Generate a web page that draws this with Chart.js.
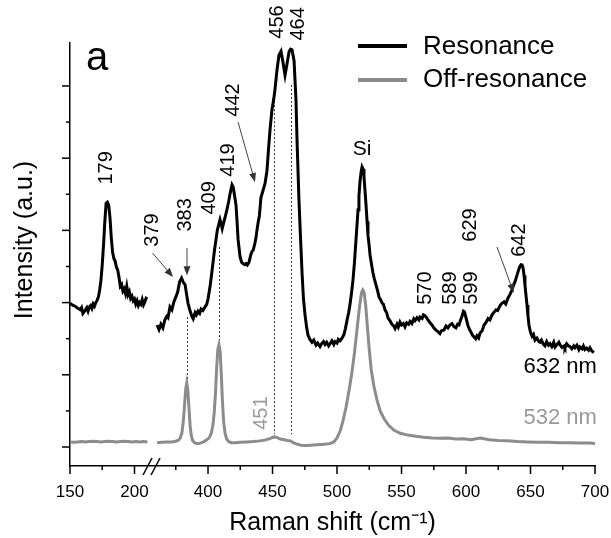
<!DOCTYPE html>
<html><head><meta charset="utf-8">
<script src="https://cdn.jsdelivr.net/npm/chart.js@4.4.0/dist/chart.umd.min.js"></script>
<style>html,body{margin:0;padding:0;background:#fff;}</style>
</head><body>
<canvas id="c" width="611" height="538"></canvas>
<script>
// ---------- DATA ----------
const resShift = [150,152,154,156,158,159,160,162,163,164,165,166,167,168,169,170,171,172,173,174,175,176,177,178,179,180,181,182,183,184,185,186,187,188,189,190,191,192,193,194,195,196,197,198,199,200,201,202,203,204,205,206,207,208,209,210,
360.5,362,363.5,365,366.5,368,369,370.5,372,373.5,375,376.5,378,379.5,381,382.2,383.5,384.5,386,387.5,388.5,390,391,392.2,393.5,394.6,396,397.7,399,400,401.6,403,404,405,406.2,407.2,408,409.3,410.2,411,412.4,413.5,414.7,416,417,418.6,419.5,420.2,421.7,422.5,423.3,424.8,426,427.1,428.5,429.5,430.5,431.8,433,434.1,435,436.4,437.2,438,439,439.8,441,442.6,444.2,445.7,447,448.1,449.6,451,451.9,453.5,455,456.6,458.1,459.7,461.2,462.8,464,465.1,466.7,468.2,469,470.5,471.7,472.9,474,475.2,476.5,477.5,479,480.6,482,483.7,485,486.8,488,489.5,490.7,492,493.5,494.6,496,497.5,498.4,500,501,502.3,504,505.4,506.5,507.8,509,510,511.2,512.4,513.5,514.7,515.5,516.3,517,517.8,518.6,519.4,520.2,520.9,521.7,522.5,523.3,524,525,525.6,526.8,527.9,529,530.2,531.3,532.6,533.8,534.9,536,537.2,538.5,539.5,541,542.6,544,545,546.5,547.5,548.8,550,551.5,552.7,554,555.5,556.6,558,559.5,560.5,562,563.5,564.3,566,567,568.2,569.5,570.5,572,573.6,575,576.7,578,579.8,581,582.9,584.5,586,587.5,589.1,590.5,592.2,593.5,594.6,595.8,596.9,598,598.8,600,601.6,602.8,603.9,605,606.2,607.5,608.5,609.8,610.9,612.5,614,615.5,617.1,618.5,620.2,621.5,623.3,624.5,626.4,627.8,629.5,630.8,632.6,634,635.7,637,638,639.2,640.3,641.5,642.6,643.5,644.2,645,645.7,646.5,647.3,648,648.8,650,651.2,652.3,653.5,655,656.5,657.4,658.5,660,661.2,662.5,664,665.1,666.5,668,669,670.5,672,672.9,674.5,676,676.7,678,679.5,680.6,682,683.5,684.5,686,687.5,688.4,690,691,692.2,693.5,695,696.1,697.5,699.2];
const resIntensity = [3.98,3.93,3.90,3.84,3.80,3.86,3.70,3.80,3.86,3.76,3.88,3.92,3.84,3.96,3.90,4.00,4.06,4.15,4.35,4.62,5.05,5.60,6.25,6.75,6.78,6.70,6.35,5.80,5.40,5.22,5.15,4.98,4.90,4.70,4.45,4.50,4.32,4.38,4.25,4.45,4.22,4.30,4.12,4.18,4.05,4.10,3.96,4.05,3.92,4.00,3.95,4.08,3.94,4.02,4.12,4.10,
3.38,3.25,3.40,3.30,3.52,3.62,3.58,3.88,3.80,4.02,4.15,4.30,4.58,4.68,4.55,4.50,4.20,3.98,3.78,3.62,3.55,3.72,3.66,3.76,3.70,3.82,3.78,3.88,3.95,4.10,4.45,4.85,5.15,5.45,5.75,6.00,6.12,6.30,6.18,6.05,6.25,6.40,6.58,6.80,7.00,7.26,7.20,7.05,6.70,6.25,5.75,5.28,5.12,5.08,5.05,5.08,5.04,5.12,5.30,5.42,5.45,5.65,5.80,6.02,6.25,6.40,6.90,7.10,7.30,7.65,8.30,8.80,9.35,9.65,9.90,10.45,10.85,10.96,10.66,10.30,10.60,10.95,11.02,11.00,10.70,9.60,8.50,6.84,5.80,4.82,4.10,3.66,3.30,3.10,2.98,2.90,2.96,2.82,2.88,2.78,2.86,2.92,2.84,2.90,2.80,2.86,2.94,2.84,2.92,2.88,2.98,2.94,3.02,3.12,3.28,3.52,3.72,3.93,4.25,4.63,5.10,5.73,6.15,6.57,6.95,7.34,7.60,7.76,7.70,7.50,7.10,6.70,6.25,5.87,5.55,5.32,5.05,4.82,4.65,4.49,4.35,4.15,4.08,3.99,3.95,3.80,3.72,3.58,3.50,3.40,3.35,3.28,3.40,3.32,3.46,3.38,3.42,3.33,3.44,3.40,3.48,3.42,3.55,3.50,3.58,3.52,3.60,3.56,3.66,3.64,3.58,3.52,3.45,3.38,3.30,3.24,3.20,3.14,3.22,3.24,3.35,3.30,3.38,3.42,3.34,3.30,3.40,3.38,3.52,3.62,3.76,3.74,3.58,3.35,3.25,3.18,3.10,3.05,3.00,3.08,3.02,3.16,3.22,3.38,3.45,3.56,3.52,3.66,3.72,3.80,3.78,3.92,3.98,4.02,3.96,4.13,4.22,4.35,4.50,4.58,4.72,4.85,4.98,5.05,5.04,4.96,4.75,4.49,4.20,3.93,3.65,3.38,3.18,3.07,3.12,2.96,3.02,2.92,2.90,2.96,2.84,2.80,2.92,2.82,2.86,2.78,2.90,2.77,2.84,2.90,2.83,2.76,2.80,2.75,2.86,2.80,2.78,2.72,2.80,2.75,2.82,2.70,2.77,2.72,2.80,2.70,2.74,2.68,2.75,2.66,2.62];

const offShift = [150,153,156,159,162,165,168,171,174,177,180,183,186,189,192,195,198,201,204,207,210,
360.5,364,368,372,375,377,378.5,379.8,380.8,381.8,382.7,383.5,384.3,385.2,386.1,387,388,389.5,391,393,395,397,399,401,402.5,403.8,404.8,405.8,406.7,407.6,408.5,409.4,410.3,411.2,412.1,413.2,414.5,416,418,421,425,430,435,440,444,448,451,453,456,459,462,464,466,469,472,476,480,484,488,492,495,497.5,500,502.5,504.5,507,509.5,511.5,513.5,515.5,517.5,519,520,521,522.3,523.6,525,526.5,528.5,531,533.5,536.5,540,544,549,555,561,567,574,580,586,592,598,604,611,618,625,632,640,648,656,664,672,680,688,696,700];
const offIntensity = [0.14,0.13,0.14,0.15,0.14,0.15,0.16,0.15,0.14,0.15,0.16,0.15,0.14,0.15,0.16,0.15,0.14,0.15,0.14,0.15,0.14,
0.12,0.13,0.14,0.14,0.16,0.19,0.25,0.40,0.70,1.15,1.60,1.77,1.60,1.10,0.60,0.32,0.18,0.12,0.10,0.10,0.12,0.15,0.20,0.26,0.38,0.60,0.95,1.50,2.20,2.70,2.83,2.65,2.00,1.25,0.70,0.38,0.22,0.15,0.12,0.12,0.13,0.14,0.15,0.17,0.19,0.23,0.28,0.27,0.22,0.20,0.18,0.17,0.12,0.08,0.05,0.04,0.05,0.06,0.07,0.08,0.10,0.14,0.25,0.45,0.70,1.10,1.60,2.05,2.60,3.25,3.90,4.28,4.35,4.28,3.90,3.30,2.70,2.15,1.70,1.30,1.00,0.78,0.60,0.47,0.38,0.33,0.30,0.27,0.25,0.24,0.25,0.22,0.23,0.20,0.25,0.20,0.18,0.17,0.15,0.14,0.13,0.13,0.12,0.12,0.11,0.11,0.10];

const xMajorTicks = [150,200,400,450,500,550,600,650,700];
const xMinorTicks = [175,375,425,475,525,575,625,675];
const yMajorTicks = [0,2,4,6,8,10];
const yMinorTicks = [1,3,5,7,9];

// peak annotations: [text, Raman shift, intensity, colour key]
const peakLabels = [
  ['179',177.9,7.73,'k'],['379',356.8,6.01,'k'],['383',382.9,6.43,'k'],['409',401.5,6.90,'k'],
  ['419',415.5,7.95,'k'],['442',419.4,9.61,'k'],['456',453.5,11.77,'k'],['464',470.5,11.72,'k'],
  ['570',568.2,4.40,'k'],['589',588.3,4.40,'k'],['599',603.9,4.40,'k'],['629',603.1,6.15,'k'],
  ['642',641.8,5.73,'k'],['451',441.1,0.94,'g']
];
const dottedLines = [[383.5,3.6,1.85],[408.5,5.54,2.88],[451.5,9.8,0.35],[464.3,10.03,0.35]];
const arrows = [[357.0,5.37,372.9,4.71],[383.7,5.51,383.7,4.76],[423.3,9.0,436.4,7.34],[624.0,5.54,637.0,4.27]];

// ---------- broken axis mapping ----------
const BREAK_LO = 213.6, BREAK_HI = 356.6, GAP = BREAK_HI - BREAK_LO;
const toAxis = v => v <= BREAK_LO ? v : v - GAP;
const fromAxis = d => d <= BREAK_LO ? d : d + GAP;

function buildSeries(xs, ys){
  const out = [];
  for (let i=0;i<xs.length;i++){
    if (i>0 && xs[i-1] <= BREAK_LO && xs[i] > BREAK_LO) out.push({x: BREAK_LO, y: null});
    out.push({x: toAxis(xs[i]), y: ys[i]});
  }
  return out;
}

const FONT = "'Liberation Sans', Arial, Helvetica, sans-serif";
const BLACK = '#000000', GREY = '#8c8c8c', GREYTXT = '#999999';

const decor = {
  id:'decor',
  beforeDatasetsDraw(chart){
    const {ctx, scales:{x,y}} = chart;
    ctx.save();
    ctx.strokeStyle = '#333'; ctx.lineWidth = 1; ctx.setLineDash([2,2]);
    dottedLines.forEach(([v,y1,y2])=>{
      const px = Math.round(x.getPixelForValue(toAxis(v)))+0.5;
      ctx.beginPath(); ctx.moveTo(px, y.getPixelForValue(y1)); ctx.lineTo(px, y.getPixelForValue(y2)); ctx.stroke();
    });
    ctx.restore();
  },
  afterDraw(chart){
    const {ctx, scales:{x,y}, chartArea:ca} = chart;
    ctx.save();
    // tick marks
    ctx.strokeStyle = '#000'; ctx.lineWidth = 1.5; ctx.setLineDash([]);
    const xt = (v,len)=>{const px=x.getPixelForValue(toAxis(v)); ctx.beginPath(); ctx.moveTo(px,ca.bottom); ctx.lineTo(px,ca.bottom+len); ctx.stroke();};
    xMajorTicks.forEach(v=>xt(v,8)); xMinorTicks.forEach(v=>xt(v,4));
    const yt = (v,len)=>{const py=y.getPixelForValue(v); ctx.beginPath(); ctx.moveTo(ca.left,py); ctx.lineTo(ca.left-len,py); ctx.stroke();};
    yMajorTicks.forEach(v=>yt(v,8)); yMinorTicks.forEach(v=>yt(v,4));
    // axis break marks
    const bx = x.getPixelForValue(BREAK_LO), by = ca.bottom;
    ctx.lineWidth = 1.5;
    [[-9,0],[-1,8]].forEach(([a,b])=>{ctx.beginPath(); ctx.moveTo(bx+a, by+9); ctx.lineTo(bx+b, by-8); ctx.stroke();});
    // arrows
    ctx.strokeStyle = '#444'; ctx.fillStyle = '#333'; ctx.lineWidth = 1;
    arrows.forEach(([x1,y1,x2,y2])=>{
      const p1x=x.getPixelForValue(toAxis(x1)), p1y=y.getPixelForValue(y1);
      const p2x=x.getPixelForValue(toAxis(x2)), p2y=y.getPixelForValue(y2);
      const ang=Math.atan2(p2y-p1y,p2x-p1x);
      ctx.beginPath(); ctx.moveTo(p1x,p1y); ctx.lineTo(p2x-6*Math.cos(ang),p2y-6*Math.sin(ang)); ctx.stroke();
      ctx.beginPath(); ctx.moveTo(p2x,p2y);
      ctx.lineTo(p2x-9*Math.cos(ang)+3.5*Math.sin(ang), p2y-9*Math.sin(ang)-3.5*Math.cos(ang));
      ctx.lineTo(p2x-9*Math.cos(ang)-3.5*Math.sin(ang), p2y-9*Math.sin(ang)+3.5*Math.cos(ang));
      ctx.closePath(); ctx.fill();
    });
    // rotated peak labels
    ctx.textAlign='center'; ctx.textBaseline='middle';
    ctx.font = '20px '+FONT;
    peakLabels.forEach(([t,v,iv,c])=>{
      ctx.save();
      ctx.translate(x.getPixelForValue(toAxis(v)), y.getPixelForValue(iv));
      ctx.rotate(-Math.PI/2);
      ctx.fillStyle = c==='g'?GREYTXT:BLACK;
      ctx.fillText(t,0,0);
      ctx.restore();
    });
    // horizontal labels
    ctx.fillStyle = BLACK; ctx.font = '21px '+FONT;
    ctx.fillText('Si', x.getPixelForValue(toAxis(519.4)), y.getPixelForValue(8.25));
    ctx.textAlign='right'; ctx.font = '22px '+FONT;
    ctx.fillText('632 nm', x.getPixelForValue(toAxis(701.5)), y.getPixelForValue(2.22));
    ctx.fillStyle = GREYTXT;
    ctx.fillText('532 nm', x.getPixelForValue(toAxis(701.5)), y.getPixelForValue(0.80));
    // panel letter
    ctx.fillStyle = BLACK; ctx.textAlign='center'; ctx.textBaseline='alphabetic';
    ctx.font = '40px '+FONT; ctx.fillText('a', 97, 70);
    // y-axis title
    ctx.save(); ctx.translate(25,240); ctx.rotate(-Math.PI/2);
    ctx.textBaseline='middle'; ctx.font='25px '+FONT; ctx.fillText('Intensity (a.u.)',0,0); ctx.restore();
    // legend
    ctx.lineWidth = 4; ctx.setLineDash([]);
    ctx.strokeStyle = BLACK; ctx.beginPath(); ctx.moveTo(358,46); ctx.lineTo(407,46); ctx.stroke();
    ctx.strokeStyle = GREY; ctx.beginPath(); ctx.moveTo(358,80); ctx.lineTo(407,80); ctx.stroke();
    ctx.textAlign='left'; ctx.textBaseline='middle'; ctx.font='26px '+FONT; ctx.fillStyle=BLACK;
    ctx.fillText('Resonance', 423, 47);
    ctx.fillText('Off-resonance', 423, 80);
    ctx.restore();
  }
};

new Chart(document.getElementById('c'), {
  type:'line',
  data:{datasets:[
    {label:'Off-resonance', data: buildSeries(offShift, offIntensity), borderColor:GREY, borderWidth:3, pointRadius:0, tension:0, spanGaps:false},
    {label:'Resonance', data: buildSeries(resShift, resIntensity), borderColor:BLACK, borderWidth:3, pointRadius:0, tension:0, spanGaps:false}
  ]},
  options:{
    responsive:false, animation:false, parsing:true,
    layout:{padding:{top:43,right:16,left:0,bottom:0}},
    plugins:{legend:{display:false}, tooltip:{enabled:false}},
    scales:{
      x:{type:'linear', min:toAxis(150), max:toAxis(700),
        afterBuildTicks: s => { s.ticks = xMajorTicks.map(v=>({value:toAxis(v)})); },
        afterFit: s => { s.height = 72; s.paddingLeft = 0; s.paddingRight = 0; },
        ticks:{autoSkip:false, maxRotation:0, padding:8, color:'#000', font:{family:FONT,size:17},
          callback: v => String(Math.round(fromAxis(v)))},
        grid:{display:false},
        border:{display:true, color:'#000', width:1.5},
        title:{display:true, text:'Raman shift (cm⁻¹)', color:'#000', font:{family:FONT,size:25}, padding:{top:0,bottom:0}}
      },
      y:{type:'linear', min:-0.526, max:11.19,
        afterFit: s => { s.width = 70; },
        ticks:{display:false},
        grid:{display:false},
        border:{display:true, color:'#000', width:1.5}
      }
    }
  },
  plugins:[decor]
});
</script>
</body></html>
